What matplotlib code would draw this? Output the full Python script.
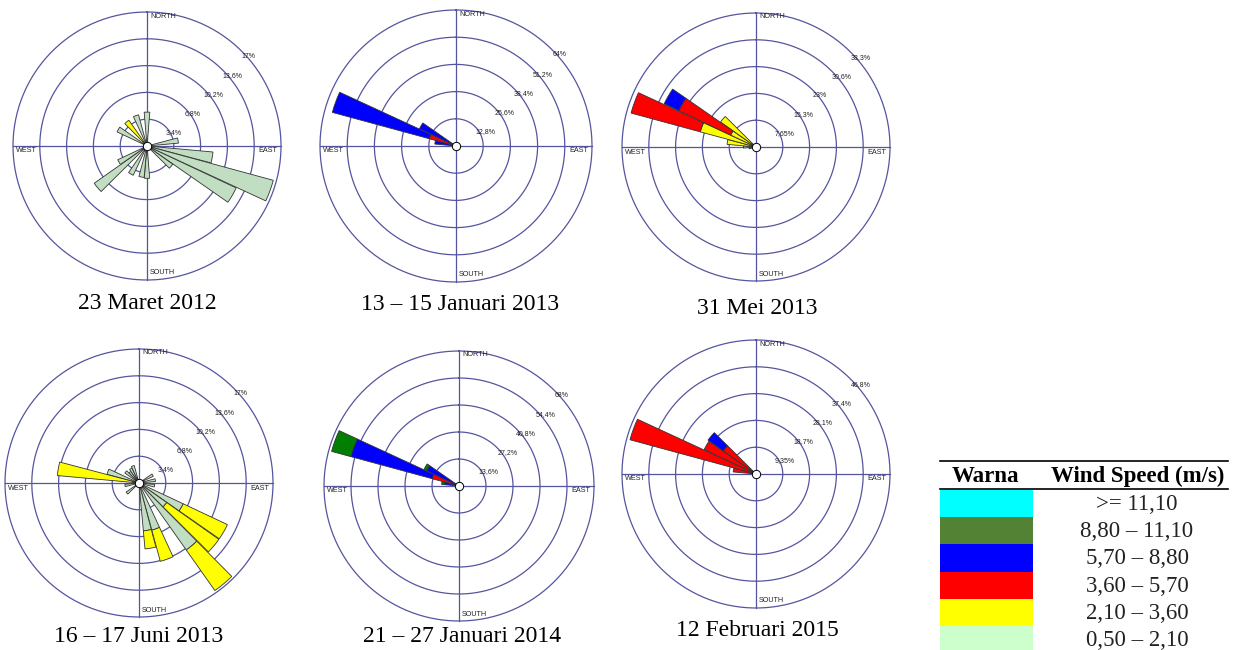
import numpy as np
import matplotlib
matplotlib.use("Agg")
import matplotlib.pyplot as plt
from matplotlib.patches import Rectangle

W, H = 1234, 650

# ── speed classes (inner -> outer) ──
BAR_COLORS = ['#c2dec2', '#ffff00', '#ff0000', '#0000ff', '#007f00', '#00ffff']
GRID = '#55559f'

LEGEND_COLORS = ['#00ffff', '#548235', '#0000ff', '#ff0000', '#ffff00', '#ccffcc']
LEGEND_LABELS = ['>= 11,10', '8,80 – 11,10', '5,70 – 8,80',
                 '3,60 – 5,70', '2,10 – 3,60', '0,50 – 2,10']

# ── data: direction (deg) and % per speed class ──
# 23 Maret 2012
P1_DIRS = [0, 80, 100, 110, 120, 130, 180, 190, 210, 230, 240, 300, 320, 340]
P1_GREEN = [4.3, 4.0, 8.4, 16.6, 12.5, 4.0, 4.1, 4.0, 4.1, 8.2, 4.1, 4.2, 0, 4.1]
P1_YELLOW = [0, 0, 0, 0, 0, 0, 0, 0, 0, 0, 0, 0, 4.0, 0]
P1_RINGS = ['3,4%', '6,8%', '10,2%', '13,6%', '17%']
P1_RMAX = 17

# 13 – 15 Januari 2013
P2_DIRS = [280, 290, 300]
P2_RED = [1.0, 13.0, 0]
P2_BLUE = [9.0, 47.3, 19.0]
P2_RINGS = ['12,8%', '25,6%', '38,4%', '51,2%', '64%']
P2_RMAX = 64

# 31 Mei 2013
P3_DIRS = [260, 270, 280, 290, 300, 310]
P3_GREEN = [2.0, 3.6, 0, 0, 0, 0]
P3_YELLOW = [0, 0, 8.3, 16.5, 8.0, 12.4]
P3_RED = [0, 0, 0, 20.5, 16.4, 0]
P3_BLUE = [0, 0, 0, 0, 4.6, 0]
P3_RINGS = ['7,65%', '15,3%', '23%', '30,6%', '38,3%']
P3_RMAX = 38.3

# 16 – 17 Juni 2013
P4_DIRS = [60, 80, 100, 120, 130, 140, 160, 170, 230, 260, 280, 290, 310, 320, 330, 340]
P4_GREEN = [2.0, 2.1, 2.0, 6.2, 4.3, 10.4, 6.2, 6.1, 2.0, 1.8, 0.8, 4.2, 2.2, 1.8, 2.1, 2.3]
P4_YELLOW = [0, 0, 0, 6.2, 8.1, 6.3, 4.1, 2.3, 0, 0, 9.6, 0, 0, 0, 0, 0]
P4_RINGS = ['3,4%', '6,8%', '10,2%', '13,6%', '17%']
P4_RMAX = 17

# 21 – 27 Januari 2014
P5_DIRS = [280, 290, 300]
P5_RED = [2.0, 14.0, 0]
P5_BLUE = [5.5, 42.4, 18.0]
P5_DGREEN = [1.3, 10.1, 1.5]
P5_RINGS = ['13,6%', '27,2%', '40,8%', '54,4%', '68%']
P5_RMAX = 68

# 12 Februari 2015
P6_DIRS = [280, 290, 300, 310]
P6_RED = [8.0, 45.6, 20.0, 14.0]
P6_BLUE = [0, 0, 0, 6.5]
P6_RINGS = ['9,35%', '18,7%', '28,1%', '37,4%', '46,8%']
P6_RMAX = 46.8

TITLES = ['23 Maret 2012', '13 – 15 Januari 2013', '31 Mei 2013',
          '16 – 17 Juni 2013', '21 – 27 Januari 2014', '12 Februari 2015']

fig = plt.figure(figsize=(W / 100, H / 100), dpi=100)


def draw_rose(cx, cy, R, dirs, stacks, rmax, ring_labels):
    ax = fig.add_axes([(cx - R) / W, (H - cy - R) / H, 2 * R / W, 2 * R / H],
                      projection='polar')
    ax.set_theta_zero_location('N')
    ax.set_theta_direction(-1)
    ax.set_ylim(0, rmax)
    ax.set_axis_off()

    th = np.linspace(0, 2 * np.pi, 400)
    for k in range(1, 6):
        ax.plot(th, np.full_like(th, rmax * k / 5), color=GRID, lw=0.9,
                clip_on=False, zorder=1)
    for a in [0, np.pi / 2, np.pi, 1.5 * np.pi]:
        ax.plot([a, a], [0, rmax], color=GRID, lw=0.9, clip_on=False, zorder=1)

    theta = np.deg2rad(dirs)
    bottom = np.zeros(len(dirs))
    for ci, vals in stacks:
        vals = np.asarray(vals, dtype=float)
        m = vals > 0
        ax.bar(theta[m], vals[m], width=np.deg2rad(9.6), bottom=bottom[m],
               color=BAR_COLORS[ci], edgecolor='#333333', linewidth=0.6,
               zorder=3, clip_on=False)
        bottom += vals

    ax.scatter([0], [0], s=36, c='white', edgecolors='black', linewidths=0.7,
               zorder=6, clip_on=False)

    # ring labels
    for k, lab in enumerate(ring_labels, start=1):
        rp = R * k / 5 * 0.7071
        ax.text(0.5 + rp / (2 * R), 0.5 + (rp - 5) / (2 * R), lab,
                transform=ax.transAxes, ha='left', va='center',
                fontsize=5, color='#222222', family='Liberation Sans')

    # compass labels
    f = lambda d: d / (2 * R)
    kw = dict(transform=ax.transAxes, fontsize=5.2, color='#222222',
              family='Liberation Sans', va='center')
    ax.text(0.5 + f(3), 0.5 + f(R - 4), 'NORTH', ha='left', **kw)
    ax.text(0.5 + f(3), 0.5 - f(R - 7), 'SOUTH', ha='left', **kw)
    ax.text(0.5 + f(R - 4), 0.5 - f(5), 'EAST', ha='right', **kw)
    ax.text(0.5 - f(R - 3), 0.5 - f(5), 'WEST', ha='left', **kw)
    return ax


draw_rose(147, 146, 134, P1_DIRS, [(0, P1_GREEN), (1, P1_YELLOW)], P1_RMAX, P1_RINGS)
draw_rose(456, 146, 136, P2_DIRS, [(2, P2_RED), (3, P2_BLUE)], P2_RMAX, P2_RINGS)
draw_rose(756, 147, 134, P3_DIRS, [(0, P3_GREEN), (1, P3_YELLOW), (2, P3_RED),
                                   (3, P3_BLUE)], P3_RMAX, P3_RINGS)
draw_rose(139, 483, 134, P4_DIRS, [(0, P4_GREEN), (1, P4_YELLOW)], P4_RMAX, P4_RINGS)
draw_rose(459, 486, 135, P5_DIRS, [(2, P5_RED), (3, P5_BLUE), (4, P5_DGREEN)],
          P5_RMAX, P5_RINGS)
draw_rose(756, 474, 134, P6_DIRS, [(2, P6_RED), (3, P6_BLUE)], P6_RMAX, P6_RINGS)

# ── titles ──
title_pos = [(147, 304), (460, 305), (757, 308), (139, 636), (462, 636), (757, 630)]
for (tx, ty), t in zip(title_pos, TITLES):
    fig.text(tx / W, 1 - ty / H, t, ha='center', va='center', fontsize=17,
             family='Liberation Serif', color='black')

# ── legend table ──
lg = fig.add_axes([0, 0, 1, 1], zorder=10)
lg.set_xlim(0, W)
lg.set_ylim(H, 0)
lg.set_axis_off()
x0, x1, xc = 940, 1228, 1033
lg.plot([x0, x1], [461, 461], color='black', lw=1.2)
lg.plot([x0, x1], [489, 489], color='black', lw=1.2)
lg.text(985, 476, 'Warna', ha='center', va='center', fontsize=16.5,
        fontweight='bold', family='Liberation Serif')
lg.text(1138, 476, 'Wind Speed (m/s)', ha='center', va='center', fontsize=16.5,
        fontweight='bold', family='Liberation Serif')
row_h = 27.2
for i, (c, lab) in enumerate(zip(LEGEND_COLORS, LEGEND_LABELS)):
    y = 490 + i * row_h
    lg.add_patch(Rectangle((x0, y), xc - x0, row_h, facecolor=c, edgecolor='none'))
    lg.text(1137, y + row_h / 2 + 1, lab, ha='center', va='center', fontsize=16.5,
            family='Liberation Serif', color='#222222')

fig.savefig('out.png', dpi=100)
